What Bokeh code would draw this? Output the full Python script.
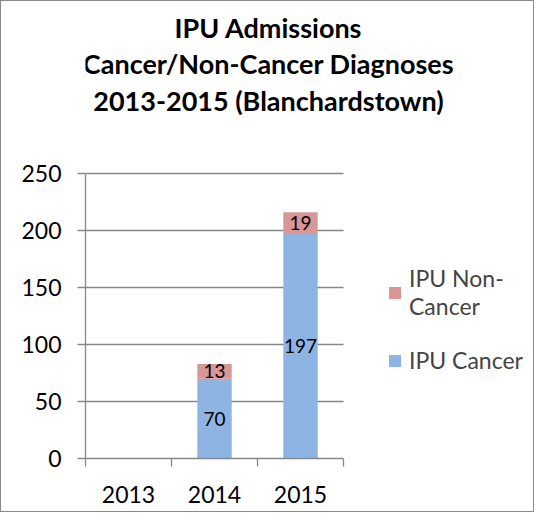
from bokeh.plotting import figure
from bokeh.models import (ColumnDataSource, Range1d, FixedTicker, Legend, LegendItem, Label)
from bokeh.core.properties import value
from bokeh.embed import file_html
from bokeh.resources import INLINE

# ---- data ----
years = ["2013", "2014", "2015"]
ipu_cancer = [0, 70, 197]
ipu_non_cancer = [0, 13, 19]
y_ticks = [0, 50, 100, 150, 200, 250]
title_lines = ["IPU Admissions", "Cancer/Non-Cancer Diagnoses", "2013-2015 (Blanchardstown)"]

BLUE = "#8EB4E3"
PINK = "#D99694"
GREY = "#878787"
FONT = "Lato"

W, H = 534, 512
LEFT, BOTTOM = 84, 55
PX_PER_CAT = 86.0
PX_PER_UNIT = 1.14
frame_w = W - LEFT
frame_h = H - BOTTOM

n = len(years)
xs = [i + 0.5 for i in range(n)]
src = ColumnDataSource(dict(x=xs, cancer=ipu_cancer, non=ipu_non_cancer))

p = figure(width=W, height=H, output_backend="svg", toolbar_location=None,
           x_range=Range1d(0, frame_w / PX_PER_CAT), y_range=Range1d(0, frame_h / PX_PER_UNIT),
           min_border_left=LEFT, min_border_top=0, min_border_right=0, min_border_bottom=BOTTOM)
p.styles = {"border": "1px solid #8a8a8a"}
p.outline_line_color = None
p.xgrid.grid_line_color = None
yg = p.ygrid[0]
yg.ticker = FixedTicker(ticks=y_ticks)
yg.bounds = (0, y_ticks[-1])
yg.grid_line_color = GREY
yg.grid_line_width = 1.3
try:
    yg.cross_bounds = (0, n)
except Exception:
    yg.grid_line_color = None
    p.segment(x0=[0] * len(y_ticks), x1=[n] * len(y_ticks), y0=y_ticks, y1=y_ticks,
              line_color=GREY, line_width=1.3)

rs = p.vbar_stack(["cancer", "non"], x="x", width=0.4, source=src,
                  color=[BLUE, PINK], line_color=None)

# data labels
lx, ly, lt = [], [], []
for i, (c, nn) in enumerate(zip(ipu_cancer, ipu_non_cancer)):
    if c > 0:
        lx.append(xs[i]); ly.append(c / 2); lt.append(str(c))
    if nn > 0:
        lx.append(xs[i]); ly.append(c + nn / 2); lt.append(str(nn))
p.text(x=lx, y=ly, text=lt, text_align="center", text_baseline="middle",
       text_font=value(FONT), text_font_size="19px", text_color="black")

# y axis
ya = p.yaxis[0]
ya.ticker = FixedTicker(ticks=y_ticks)
ya.bounds = (0, y_ticks[-1])
ya.axis_line_color = GREY
ya.axis_line_width = 1.3
ya.major_tick_line_color = GREY
ya.major_tick_line_width = 1.3
ya.major_tick_out = 8
ya.major_tick_in = 0
ya.minor_tick_line_color = None
ya.major_label_text_font = FONT
ya.major_label_text_font_size = "23px"
ya.major_label_text_color = "black"
ya.major_label_standoff = 16

# x axis
xa = p.xaxis[0]
xa.ticker = FixedTicker(ticks=xs, minor_ticks=list(range(n + 1)))
xa.bounds = (0, n)
xa.major_label_overrides = {x: y for x, y in zip(xs, years)}
xa.axis_line_color = GREY
xa.axis_line_width = 1.3
xa.major_tick_line_color = None
xa.major_tick_out = 0
xa.major_tick_in = 0
xa.minor_tick_line_color = GREY
xa.minor_tick_line_width = 1.3
xa.minor_tick_out = 8
xa.minor_tick_in = 0
xa.major_label_text_font = FONT
xa.major_label_text_font_size = "23px"
xa.major_label_text_color = "black"
xa.major_label_standoff = 19

# title (three lines, centered on the chart)
for line, yy in zip(title_lines, [431.5, 395, 358.5]):
    p.add_layout(Label(x=183, y=yy, x_units="screen", y_units="screen", text=line,
                       text_align="center", text_baseline="alphabetic",
                       text_font=FONT, text_font_style="bold", text_font_size="27px",
                       text_color="black"))

legend = Legend(items=[LegendItem(label="IPU Non-\nCancer", renderers=[rs[1]]),
                       LegendItem(label="IPU Cancer", renderers=[rs[0]])],
                location=(302, 84), glyph_width=15, glyph_height=15, label_standoff=7,
                label_text_font=FONT, label_text_font_size="23px",
                border_line_color=None, background_fill_alpha=0, padding=0, margin=0,
                spacing=26)
p.add_layout(legend, "center")

open("out.html", "w").write(file_html(p, INLINE))
